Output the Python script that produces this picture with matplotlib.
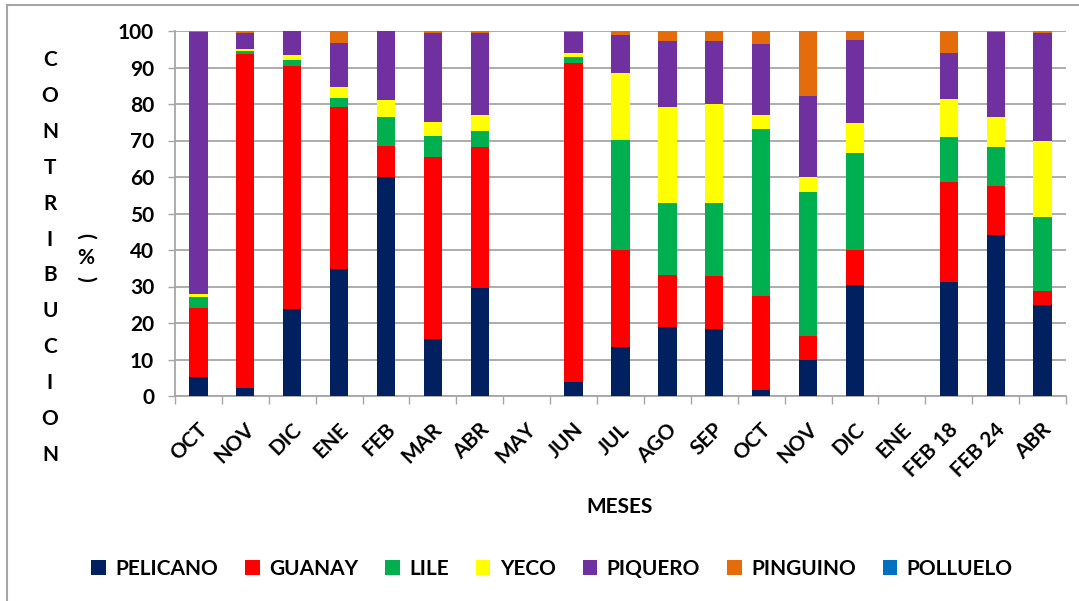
import numpy as np
import matplotlib
matplotlib.use("Agg")
import matplotlib.pyplot as plt
from matplotlib.lines import Line2D
from matplotlib.transforms import ScaledTranslation

plt.rcParams['font.family'] = ['Lato', 'DejaVu Sans']
plt.rcParams['font.weight'] = 'bold'

meses = ["OCT", "NOV", "DIC", "ENE", "FEB", "MAR", "ABR", "MAY", "JUN", "JUL",
         "AGO", "SEP", "OCT", "NOV", "DIC", "ENE", "FEB 18", "FEB 24", "ABR"]

pelicano = [5.2, 2.2, 23.9, 34.7, 60.1, 15.5, 29.7, 0, 3.8, 13.4,
            18.8, 18.4, 1.7, 9.9, 30.4, 0, 31.3, 44.1, 24.8]
guanay = [18.9, 91.6, 66.4, 44.6, 8.3, 50.1, 38.4, 0, 87.4, 26.5,
          14.3, 14.5, 25.6, 6.6, 9.7, 0, 27.4, 13.5, 4.0]
lile = [3.0, 0.6, 1.7, 2.4, 8.0, 5.6, 4.5, 0, 1.7, 30.2,
        19.7, 19.9, 45.8, 39.3, 26.6, 0, 12.3, 10.5, 20.2]
yeco = [0.9, 0.6, 1.4, 2.9, 4.7, 3.9, 4.5, 0, 1.0, 18.4,
        26.5, 27.3, 4.0, 4.3, 8.0, 0, 10.4, 8.4, 20.8]
piquero = [71.8, 4.5, 6.6, 12.0, 18.9, 24.3, 22.4, 0, 5.9, 10.4,
           17.9, 17.2, 19.3, 22.2, 22.9, 0, 12.7, 23.3, 29.7]
pinguino = [0.2, 0.5, 0, 3.4, 0, 0.6, 0.5, 0, 0.2, 1.1,
            2.8, 2.7, 3.6, 17.7, 2.4, 0, 5.9, 0.2, 0.5]
polluelo = [0] * 19

series = [
    ("PELICANO", pelicano, "#002060"),
    ("GUANAY", guanay, "#FF0000"),
    ("LILE", lile, "#00B050"),
    ("YECO", yeco, "#FFFF00"),
    ("PIQUERO", piquero, "#7030A0"),
    ("PINGUINO", pinguino, "#E46C0A"),
    ("POLLUELO", polluelo, "#0070C0"),
]

W, H = 1079, 601
fig = plt.figure(figsize=(W / 100, H / 100), dpi=100)
ax = fig.add_axes([175 / W, 1 - 396 / H, (1066 - 175) / W, (396 - 31) / H])

x = np.arange(len(meses))
bottom = np.zeros(len(meses))
handles = []
for name, vals, color in series:
    vals = np.array(vals, dtype=float)
    b = ax.bar(x, vals, width=0.39, bottom=bottom, color=color, label=name,
               zorder=3, linewidth=0)
    handles.append(b)
    bottom += vals

grid_c = "#a6a6a6"
ax.set_xlim(-0.5, len(meses) - 0.5)
ax.set_ylim(0, 100)
ax.set_yticks(np.arange(0, 101, 10))
ax.yaxis.grid(True, color=grid_c, linewidth=1.3, zorder=0)
ax.set_axisbelow(True)
for s in ["top", "right"]:
    ax.spines[s].set_visible(False)
for s in ["left", "bottom"]:
    ax.spines[s].set_color(grid_c)
    ax.spines[s].set_linewidth(1.3)

ax.tick_params(axis="y", direction="out", length=5, width=1, color=grid_c,
               labelsize=15, pad=10)
for lbl in ax.get_yticklabels():
    lbl.set_fontweight("bold")

# boundary tick marks between months, labels at bar centres
ax.set_xticks(np.arange(-0.5, len(meses), 1.0))
ax.set_xticklabels([])
ax.tick_params(axis="x", which="major", direction="out", length=6, width=1,
               color=grid_c)
ax.set_xticks(x, minor=True)
ax.set_xticklabels(meses, minor=True, rotation=45, ha="right", va="center",
                   rotation_mode="anchor", fontsize=15, fontweight="bold")
ax.tick_params(axis="x", which="minor", length=0, pad=22)
offset = ScaledTranslation(6 / 100, 0, fig.dpi_scale_trans)
for lbl in ax.get_xticklabels(minor=True):
    lbl.set_transform(lbl.get_transform() + offset)

fig.text(620 / W, 1 - 507 / H, "MESES", ha="center", va="center",
         fontsize=15, fontweight="bold")

# vertical axis title, one letter per line
letters = "CONTRIBUCION"
y0, y1 = 60, 455
for i, ch in enumerate(letters):
    yy = y0 + i * (y1 - y0) / (len(letters) - 1)
    fig.text(50 / W, 1 - yy / H, ch, ha="center", va="center",
             fontsize=15, fontweight="bold")
fig.text(86 / W, 1 - 236 / H, "(", ha="center", va="center", rotation=-90,
         fontsize=15, fontweight="bold")
fig.text(86 / W, 1 - 258 / H, "%", ha="center", va="center",
         fontsize=15, fontweight="bold")
fig.text(86 / W, 1 - 279 / H, ")", ha="center", va="center", rotation=-90,
         fontsize=15, fontweight="bold")

leg = fig.legend(handles=handles, labels=[s[0] for s in series], ncol=7,
                 loc="center", bbox_to_anchor=(552 / W, 1 - 569 / H),
                 frameon=False, handlelength=0.7,
                 handleheight=0.7, handletextpad=0.45, columnspacing=1.3,
                 prop={"weight": "bold", "size": 15})

# chart frame
fig.add_artist(Line2D([7 / W, 1], [1 - 5 / H, 1 - 5 / H], transform=fig.transFigure,
                      color=grid_c, linewidth=1.5))
fig.add_artist(Line2D([7 / W, 7 / W], [0, 1 - 5 / H], transform=fig.transFigure,
                      color=grid_c, linewidth=1.5))

fig.savefig("out.png", dpi=100)
